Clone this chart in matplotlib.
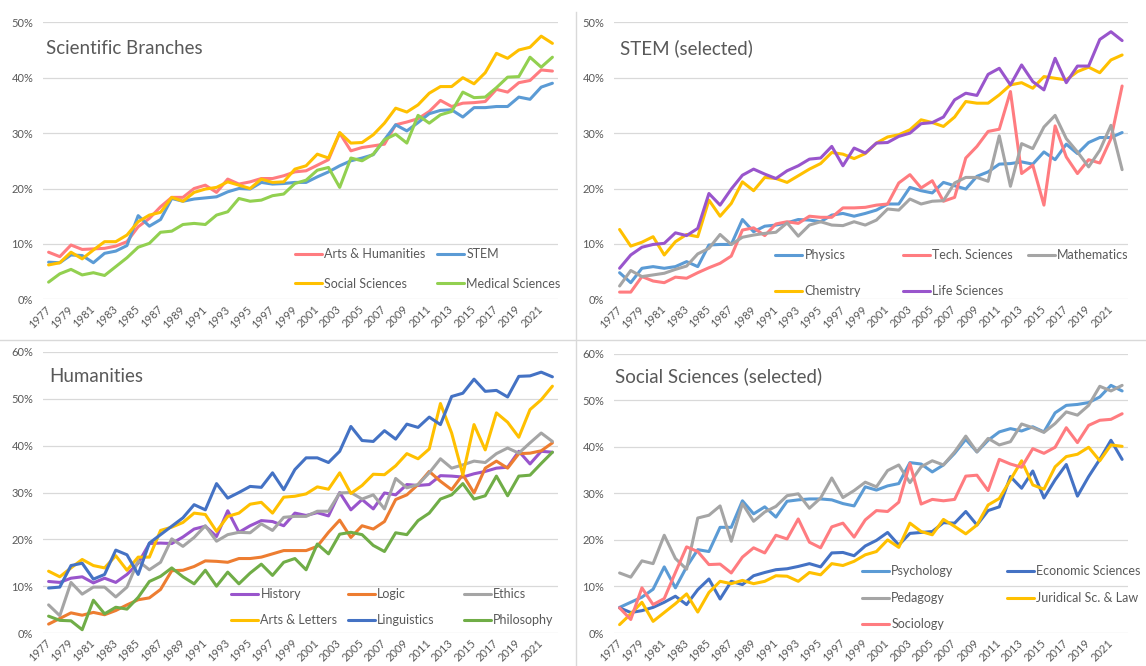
import matplotlib
matplotlib.use("Agg")
import matplotlib.pyplot as plt
from matplotlib.lines import Line2D

plt.rcParams['font.family'] = ['Lato', 'DejaVu Sans']

years = list(range(1977, 2023))
tick_years = list(range(1977, 2023, 2))

# ---------------- Panel 1: Scientific Branches ----------------
arts_hum = [8.5, 7.7, 9.8, 9.0, 9.1, 9.2, 9.6, 10.4, 13.1, 14.6,
            16.7, 18.4, 18.4, 20.0, 20.6, 19.3, 21.7, 20.8, 21.2, 21.8,
            21.8, 22.3, 23.0, 23.2, 24.2, 25.2, 30.0, 26.8, 27.4, 27.7,
            28.0, 31.5, 32.0, 32.6, 33.9, 35.9, 34.8, 35.4, 35.5, 35.7,
            37.9, 37.4, 39.1, 39.5, 41.4, 41.2]
stem = [6.7, 6.6, 8.0, 7.9, 6.6, 8.3, 8.7, 9.7, 15.1, 13.2,
        14.4, 18.2, 17.7, 18.1, 18.3, 18.5, 19.4, 20.0, 19.9, 21.1,
        20.8, 20.9, 21.1, 21.1, 22.1, 23.0, 24.1, 25.0, 25.5, 26.1,
        28.8, 31.5, 30.4, 31.9, 33.5, 34.1, 34.2, 32.9, 34.6, 34.6,
        34.8, 34.8, 36.5, 36.1, 38.3, 39.0]
social = [6.2, 6.6, 8.5, 7.3, 8.9, 10.4, 10.4, 11.6, 14.0, 15.2,
          15.7, 18.4, 17.7, 19.3, 19.9, 20.2, 21.2, 20.6, 20.0, 21.7,
          21.1, 21.2, 23.5, 24.1, 26.2, 25.5, 30.1, 28.2, 28.3, 29.7,
          31.8, 34.5, 33.8, 35.1, 37.2, 38.4, 38.4, 40.0, 38.9, 40.9,
          44.4, 43.5, 45.0, 45.5, 47.5, 46.2]
medical = [3.1, 4.6, 5.4, 4.4, 4.8, 4.3, 5.9, 7.5, 9.4, 10.1,
           12.1, 12.3, 13.5, 13.7, 13.5, 15.2, 15.8, 18.2, 17.7, 17.9,
           18.7, 19.0, 20.9, 21.5, 23.3, 23.8, 20.2, 25.5, 25.0, 26.2,
           28.8, 29.8, 28.2, 33.2, 31.8, 33.3, 33.9, 37.4, 36.4, 36.5,
           38.2, 40.1, 40.2, 43.7, 41.9, 43.7]

# ---------------- Panel 2: STEM (selected) ----------------
physics = [4.8, 3.0, 5.6, 5.9, 5.6, 5.9, 6.8, 5.9, 9.8, 9.9,
           9.9, 14.4, 12.2, 13.2, 13.4, 13.8, 14.4, 14.3, 14.0, 15.2,
           15.5, 15.0, 15.5, 16.1, 17.2, 17.2, 20.2, 19.6, 19.2, 21.1,
           20.5, 19.9, 22.2, 23.0, 24.4, 24.5, 24.8, 24.4, 26.6, 25.2,
           28.0, 26.3, 28.3, 29.2, 29.2, 30.1]
tech = [1.3, 1.3, 4.1, 3.3, 3.0, 4.0, 3.8, 4.8, 5.7, 6.5,
        7.8, 12.5, 12.9, 11.5, 13.6, 14.0, 13.7, 15.0, 14.8, 14.8,
        16.5, 16.5, 16.6, 17.0, 17.2, 21.0, 22.5, 20.1, 21.4, 17.7,
        18.4, 25.5, 27.6, 30.3, 30.7, 37.5, 22.7, 24.2, 17.0, 31.3,
        25.7, 22.7, 25.2, 24.6, 29.0, 38.5]
math_ = [2.4, 5.2, 4.1, 4.4, 4.7, 5.4, 6.0, 8.2, 9.2, 11.7,
         9.9, 11.2, 11.6, 11.9, 12.1, 13.8, 11.4, 13.4, 14.0, 13.4,
         13.3, 14.0, 13.4, 14.3, 16.3, 16.1, 18.1, 17.2, 17.7, 17.8,
         21.0, 22.0, 22.0, 21.3, 29.5, 20.4, 28.1, 27.2, 31.1, 33.2,
         29.0, 26.6, 23.9, 26.9, 31.4, 23.4]
chem = [12.6, 9.6, 10.3, 11.3, 8.0, 10.4, 11.7, 11.3, 17.9, 15.0,
        17.3, 21.2, 19.6, 22.0, 21.8, 21.1, 22.3, 23.5, 24.5, 26.5,
        26.2, 25.4, 26.3, 28.2, 29.3, 29.7, 30.6, 32.4, 31.9, 31.2,
        32.9, 35.7, 35.4, 35.4, 36.9, 38.7, 39.1, 38.1, 40.2, 39.9,
        39.6, 41.1, 41.9, 40.9, 43.2, 44.1]
life = [5.6, 8.0, 9.4, 9.9, 10.1, 12.0, 11.5, 12.8, 19.1, 17.0,
        19.9, 22.4, 23.5, 22.6, 21.8, 23.2, 24.1, 25.3, 25.5, 27.6,
        24.1, 27.3, 26.4, 28.2, 28.3, 29.4, 30.0, 31.7, 31.9, 32.9,
        36.0, 37.2, 36.8, 40.6, 41.7, 38.7, 42.3, 39.3, 37.8, 43.5,
        39.1, 42.1, 42.1, 46.9, 48.3, 46.7]

# ---------------- Panel 3: Humanities ----------------
history = [11.0, 10.8, 11.7, 12.0, 10.7, 11.7, 10.8, 12.5, 14.9, 19.1,
           19.2, 19.1, 20.5, 22.2, 22.8, 20.6, 26.1, 21.5, 22.9, 24.0,
           23.8, 22.9, 25.6, 25.1, 25.7, 25.0, 30.0, 26.3, 28.5, 26.5,
           29.9, 29.5, 31.7, 31.5, 31.7, 33.6, 33.5, 33.3, 34.0, 34.5,
           35.2, 35.4, 38.8, 36.1, 38.8, 38.6]
logic = [1.9, 3.1, 4.3, 3.8, 4.4, 3.9, 4.8, 6.0, 7.1, 7.5,
         9.3, 13.3, 13.4, 14.2, 15.4, 15.3, 15.1, 15.9, 15.9, 16.2,
         16.9, 17.6, 17.6, 17.6, 18.5, 21.5, 24.1, 20.4, 22.9, 22.2,
         23.8, 28.5, 29.5, 31.7, 34.5, 32.4, 30.6, 33.8, 29.9, 35.2,
         36.7, 35.2, 38.3, 38.4, 38.9, 40.6]
ethics = [6.0, 3.7, 10.8, 8.3, 9.8, 9.8, 7.7, 9.8, 15.4, 13.5,
          15.1, 20.1, 18.5, 20.4, 22.9, 19.6, 21.0, 21.5, 21.4, 23.3,
          21.9, 24.7, 24.9, 24.9, 26.0, 26.0, 29.9, 30.0, 28.6, 29.5,
          26.5, 33.0, 31.0, 31.7, 34.2, 37.2, 35.2, 35.9, 36.7, 36.4,
          38.3, 39.5, 38.4, 40.6, 42.7, 40.9]
arts_letters = [13.2, 12.0, 13.9, 15.7, 14.4, 13.9, 16.5, 13.4, 16.2, 16.2,
                21.9, 22.6, 23.6, 25.6, 25.3, 21.7, 24.9, 25.6, 27.5, 27.9,
                25.6, 29.0, 29.2, 29.7, 31.2, 30.7, 34.2, 29.8, 31.5, 33.9,
                33.8, 35.7, 38.3, 37.2, 39.3, 49.0, 42.7, 33.8, 44.5, 39.1,
                47.0, 45.0, 41.8, 47.7, 49.8, 52.7]
linguistics = [9.6, 9.8, 14.4, 14.9, 11.5, 12.5, 17.7, 16.7, 12.5, 19.2,
               21.0, 22.8, 24.6, 27.4, 26.3, 31.9, 28.8, 30.0, 31.3, 31.1,
               34.2, 30.6, 34.9, 37.4, 37.4, 36.4, 38.8, 44.1, 41.1, 40.9,
               43.2, 41.4, 44.6, 43.9, 46.1, 44.5, 50.5, 51.2, 54.2, 51.6,
               51.8, 50.4, 54.8, 54.9, 55.7, 54.7]
philosophy = [3.6, 2.7, 2.6, 0.7, 7.0, 4.1, 5.5, 5.1, 7.6, 11.0,
              12.1, 13.9, 12.0, 10.5, 13.4, 10.0, 13.0, 10.5, 12.8, 14.7,
              12.3, 15.1, 15.9, 13.5, 19.0, 16.9, 21.1, 21.5, 21.0, 18.7,
              17.4, 21.4, 21.0, 24.0, 25.6, 28.6, 29.5, 31.9, 28.6, 29.3,
              33.5, 29.3, 33.5, 33.7, 36.2, 38.6]

# ---------------- Panel 4: Social Sciences (selected) ----------------
psychology = [5.5, 6.6, 7.7, 9.4, 14.2, 9.7, 14.2, 17.9, 17.5, 22.7,
              22.7, 28.4, 25.6, 27.1, 24.9, 28.3, 28.6, 28.8, 28.8, 28.6,
              27.8, 27.3, 31.4, 30.7, 31.6, 32.1, 36.6, 36.3, 34.6, 36.1,
              38.6, 41.6, 38.9, 41.4, 43.2, 43.9, 43.4, 44.3, 43.2, 47.3,
              48.9, 49.1, 49.5, 50.7, 53.2, 52.0]
economic = [5.4, 4.4, 4.8, 5.5, 6.6, 7.9, 6.1, 9.3, 11.6, 7.3,
            11.1, 10.4, 12.3, 13.0, 13.6, 13.8, 14.3, 14.9, 14.2, 17.2,
            17.3, 16.6, 18.7, 19.9, 21.6, 18.9, 21.4, 21.6, 21.8, 23.7,
            23.6, 26.1, 23.2, 26.3, 27.1, 33.6, 31.1, 34.8, 29.0, 32.9,
            36.2, 29.4, 33.6, 37.3, 41.4, 37.3]
pedagogy = [12.9, 12.0, 15.5, 14.9, 21.0, 16.0, 13.7, 24.7, 25.3, 27.3,
            19.7, 27.8, 24.0, 26.0, 27.2, 29.5, 29.9, 26.8, 29.0, 33.3,
            29.1, 30.6, 32.4, 31.4, 34.9, 36.1, 32.3, 35.7, 37.0, 36.1,
            38.9, 42.3, 38.9, 41.8, 40.4, 41.1, 44.9, 44.1, 43.1, 45.0,
            47.5, 46.8, 48.9, 53.0, 52.0, 53.2]
juridical = [1.8, 4.1, 6.6, 2.5, 4.4, 6.3, 8.4, 4.5, 8.7, 11.1,
             10.6, 11.3, 10.6, 11.1, 12.3, 12.2, 11.1, 13.0, 12.5, 14.9,
             14.5, 15.4, 16.8, 17.5, 20.0, 18.4, 23.6, 21.8, 21.1, 24.4,
             22.9, 21.3, 23.2, 27.5, 28.9, 32.9, 37.0, 31.8, 30.9, 35.7,
             37.9, 38.4, 39.9, 37.0, 40.4, 40.1]
sociology = [5.4, 2.9, 9.7, 6.1, 7.4, 13.0, 18.5, 17.5, 14.7, 14.8,
             12.9, 16.3, 18.3, 17.2, 21.0, 20.2, 24.5, 19.5, 18.3, 22.8,
             23.6, 20.6, 24.3, 26.3, 26.1, 28.1, 36.4, 27.7, 28.7, 28.4,
             28.7, 33.7, 33.9, 30.6, 37.3, 36.3, 35.6, 39.6, 38.6, 39.9,
             44.1, 40.9, 44.6, 45.7, 45.9, 47.1]

RED = '#FF7C80'
LBLUE = '#5B9BD5'
GOLD = '#FFC000'
LGREEN = '#92D050'
GRAY = '#A5A5A5'
PURPLE = '#9955CC'
ORANGE = '#ED7D31'
DBLUE = '#4472C4'
GREEN = '#70AD47'
TXT = '#595959'
GRID = '#D9D9D9'

W, H = 1146, 666
fig = plt.figure(figsize=(W / 100, H / 100), dpi=100)


def fx(x):
    return x / W


def fy(y):
    return 1 - y / H


def make_ax(left, right, top, bottom, ymax):
    ax = fig.add_axes([fx(left), fy(bottom), fx(right - left), (bottom - top) / H])
    ax.set_xlim(1976.5, 2022.5)
    ax.set_ylim(0, ymax)
    yt = list(range(0, ymax + 1, 10))
    ax.set_yticks(yt)
    ax.set_yticklabels([f"{v}%" for v in yt])
    ax.set_xticks(tick_years)
    ax.set_xticklabels([str(y) for y in tick_years], rotation=45, ha='right',
                       va='center', rotation_mode='anchor')
    ax.tick_params(axis='both', length=0, labelsize=8, colors=TXT)
    ax.tick_params(axis='y', pad=7)
    ax.tick_params(axis='x', pad=6)
    for s in ax.spines.values():
        s.set_visible(False)
    ax.grid(axis='y', color=GRID, lw=0.9)
    ax.set_axisbelow(True)
    ax.patch.set_alpha(0)
    return ax


def plot_series(ax, series):
    lines = []
    for label, vals, col in series:
        ln, = ax.plot(years, vals, color=col, lw=2.2, label=label,
                      solid_joinstyle='round', solid_capstyle='round')
        lines.append(ln)
    return lines


def add_legend(line, label, x, y):
    fig.legend(handles=[line], labels=[label], loc='center left',
               bbox_to_anchor=(fx(x), fy(y)), frameon=False, borderpad=0,
               borderaxespad=0, handlelength=2.15, handletextpad=0.2,
               fontsize=9, labelcolor=TXT)


def add_title(text, x, y):
    fig.text(fx(x), fy(y), text, fontsize=13.5, color=TXT, ha='left', va='center')


# Panel 1
ax1 = make_ax(43, 558, 22.3, 299.3, 50)
l1 = plot_series(ax1, [("Arts & Humanities", arts_hum, RED),
                       ("STEM", stem, LBLUE),
                       ("Social Sciences", social, GOLD),
                       ("Medical Sciences", medical, LGREEN)])
add_title("Scientific Branches", 46, 49)
for ln, (x, y) in zip(l1, [(295, 254), (437, 254), (295, 283.5), (437, 283.5)]):
    add_legend(ln, ln.get_label(), x, y)

# Panel 2
ax2 = make_ax(614, 1127.7, 22.3, 299.3, 50)
l2 = plot_series(ax2, [("Physics", physics, LBLUE),
                       ("Tech. Sciences", tech, RED),
                       ("Mathematics", math_, GRAY),
                       ("Chemistry", chem, GOLD),
                       ("Life Sciences", life, PURPLE)])
add_title("STEM (selected)", 620, 48)
for ln, (x, y) in zip(l2, [(775, 255), (903, 255), (1028, 255), (775, 291), (903, 291)]):
    add_legend(ln, ln.get_label(), x, y)

# Panel 3
ax3 = make_ax(43, 558, 352, 633, 60)
l3 = plot_series(ax3, [("History", history, PURPLE),
                       ("Logic", logic, ORANGE),
                       ("Ethics", ethics, GRAY),
                       ("Arts & Letters", arts_letters, GOLD),
                       ("Linguistics", linguistics, DBLUE),
                       ("Philosophy", philosophy, GREEN)])
add_title("Humanities", 49, 376)
for ln, (x, y) in zip(l3, [(231, 594), (348, 594), (464, 594),
                           (231, 620), (348, 620), (464, 620)]):
    add_legend(ln, ln.get_label(), x, y)

# Panel 4
ax4 = make_ax(614, 1127.7, 353.7, 633, 60)
l4 = plot_series(ax4, [("Psychology", psychology, LBLUE),
                       ("Economic Sciences", economic, DBLUE),
                       ("Pedagogy", pedagogy, GRAY),
                       ("Juridical Sc. & Law", juridical, GOLD),
                       ("Sociology", sociology, RED)])
add_title("Social Sciences (selected)", 615, 376)
for ln, (x, y) in zip(l4, [(862, 571), (1007, 571), (862, 598), (1007, 598), (862, 624)]):
    add_legend(ln, ln.get_label(), x, y)

# chart-area separators
fig.add_artist(Line2D([fx(576), fx(576)], [fy(12), fy(666)], color=GRID, lw=1))
fig.add_artist(Line2D([0, 1], [fy(340), fy(340)], color=GRID, lw=1))

fig.savefig("out.png", dpi=100)
